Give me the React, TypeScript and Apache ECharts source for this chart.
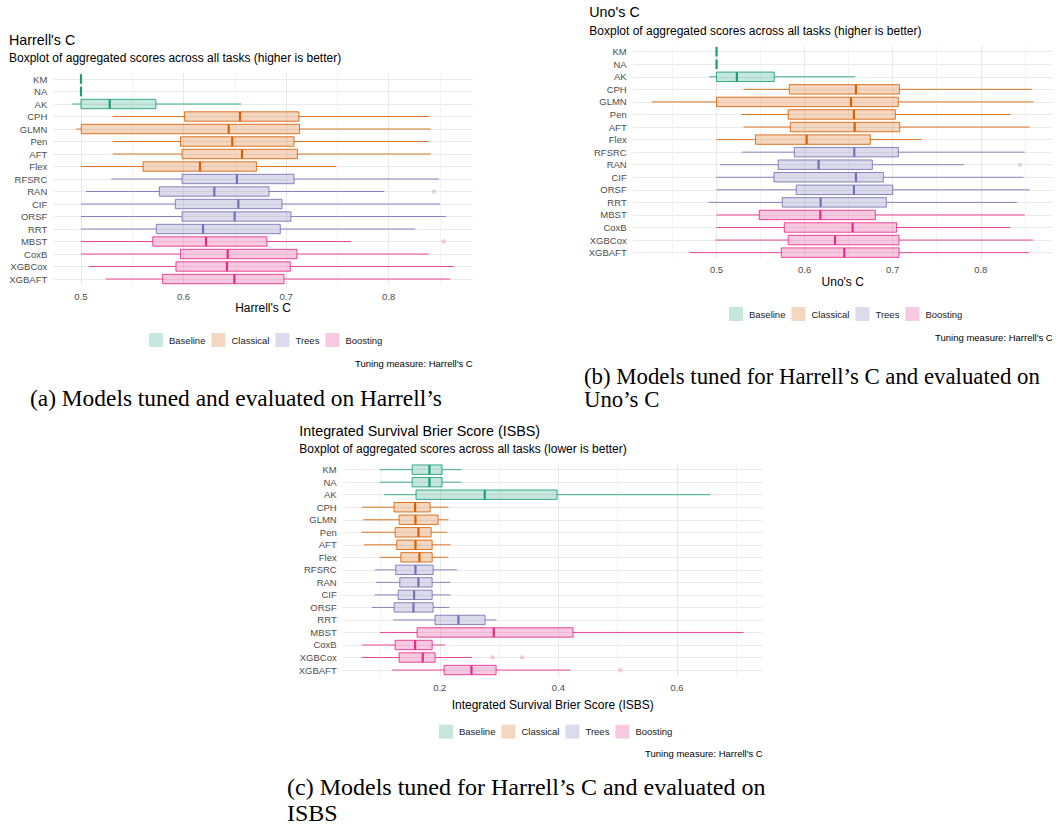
import React, { useEffect, useRef } from "react";
import * as echarts from "echarts";

// ---------- data ----------
const models = ["KM", "NA", "AK", "CPH", "GLMN", "Pen", "AFT", "Flex", "RFSRC", "RAN", "CIF", "ORSF", "RRT", "MBST", "CoxB", "XGBCox", "XGBAFT"];
const modelGroup = ["Baseline", "Baseline", "Baseline", "Classical", "Classical", "Classical", "Classical", "Classical", "Trees", "Trees", "Trees", "Trees", "Trees", "Boosting", "Boosting", "Boosting", "Boosting"];
const groups = ["Baseline", "Classical", "Trees", "Boosting"];
const groupColors = ["#1B9E77", "#D95F02", "#7570B3", "#E7298A"];

// [min, q1, median, q3, max]
const harrellStats = [
  [0.5, 0.5, 0.5, 0.5, 0.5],
  [0.5, 0.5, 0.5, 0.5, 0.5],
  [0.4916, 0.5, 0.528, 0.573, 0.656],
  [0.531, 0.601, 0.655, 0.7125, 0.839],
  [0.4955, 0.5003, 0.644, 0.713, 0.841],
  [0.531, 0.597, 0.6475, 0.7077, 0.839],
  [0.531, 0.5985, 0.657, 0.711, 0.841],
  [0.5, 0.5605, 0.616, 0.671, 0.749],
  [0.5296, 0.5985, 0.652, 0.7077, 0.849],
  [0.5049, 0.5764, 0.63, 0.6833, 0.7957],
  [0.5, 0.592, 0.6534, 0.696, 0.85],
  [0.5, 0.5985, 0.6498, 0.7047, 0.856],
  [0.5, 0.5734, 0.619, 0.6943, 0.826],
  [0.5, 0.57, 0.6219, 0.6813, 0.7636],
  [0.5, 0.597, 0.643, 0.7106, 0.839],
  [0.5075, 0.5926, 0.6423, 0.704, 0.8633],
  [0.524, 0.5796, 0.6495, 0.6979, 0.86],
];
const harrellOutliers: [string, number][] = [["RAN", 0.844], ["MBST", 0.8536]];

const unoStats = [
  [0.5, 0.5, 0.5, 0.5, 0.5],
  [0.5, 0.5, 0.5, 0.5, 0.5],
  [0.4917, 0.5, 0.5231, 0.5655, 0.6576],
  [0.5307, 0.5826, 0.6583, 0.7076, 0.858],
  [0.4265, 0.5, 0.6527, 0.7064, 0.86],
  [0.528, 0.5814, 0.656, 0.703, 0.834],
  [0.5307, 0.5837, 0.6568, 0.708, 0.8557],
  [0.5, 0.5443, 0.6023, 0.6746, 0.7326],
  [0.5288, 0.5883, 0.6564, 0.7064, 0.85],
  [0.5042, 0.57, 0.6159, 0.6769, 0.781],
  [0.5, 0.5652, 0.6583, 0.6894, 0.8485],
  [0.5, 0.5905, 0.656, 0.7, 0.8557],
  [0.4909, 0.5746, 0.6182, 0.6928, 0.841],
  [0.5, 0.5485, 0.6178, 0.6803, 0.85],
  [0.5, 0.5769, 0.6545, 0.7045, 0.8333],
  [0.4985, 0.5814, 0.6345, 0.7072, 0.8595],
  [0.469, 0.5735, 0.6451, 0.7072, 0.8545],
];
const unoOutliers: [string, number][] = [["RAN", 0.8447]];

const isbsStats = [
  [0.0989, 0.1534, 0.1826, 0.2039, 0.2365],
  [0.0989, 0.1534, 0.1826, 0.2039, 0.2365],
  [0.1062, 0.16, 0.2758, 0.3978, 0.6562],
  [0.0685, 0.123, 0.1584, 0.1837, 0.2146],
  [0.0708, 0.1315, 0.159, 0.1972, 0.2146],
  [0.0685, 0.1247, 0.164, 0.1854, 0.2124],
  [0.0719, 0.1275, 0.159, 0.1871, 0.218],
  [0.0989, 0.1343, 0.1657, 0.1871, 0.2146],
  [0.091, 0.1258, 0.159, 0.1888, 0.2287],
  [0.0921, 0.1326, 0.164, 0.1871, 0.218],
  [0.0904, 0.1298, 0.1567, 0.1871, 0.218],
  [0.0854, 0.123, 0.1556, 0.1888, 0.2163],
  [0.1213, 0.1921, 0.2315, 0.2764, 0.2955],
  [0.0989, 0.1618, 0.291, 0.4247, 0.7123],
  [0.0685, 0.1247, 0.1584, 0.1871, 0.209],
  [0.0685, 0.1315, 0.1713, 0.1921, 0.2545],
  [0.1191, 0.2073, 0.2534, 0.2949, 0.4202],
];
const isbsOutliers: [string, number][] = [["XGBCox", 0.2888], ["XGBCox", 0.3388], ["XGBAFT", 0.5045]];

// tick steps (major / minor)
const harrellTicks = [0.1, 0.05];
const unoTicks = [0.1, 0.05];
const isbsTicks = [0.2, 0.1];

// ---------- layout / text ----------
const SANS = "'Liberation Sans', Arial, Helvetica, sans-serif";
const SERIF = "'Liberation Serif', 'Times New Roman', serif";
const CAPTION_TEXT = "Tuning measure: Harrell's C";

const panels = [
  {
    stats: harrellStats, outliers: harrellOutliers, ticks: harrellTicks,
    title: "Harrell's C", subtitle: "Boxplot of aggregated scores across all tasks (higher is better)",
    axisName: "Harrell's C", nameGap: 17,
    grid: { left: 53.3, top: 72.75, width: 419.4, height: 212.5 },
    titlePos: { left: 9, top: 32.9 }, subPos: { left: 9, top: 51.7 },
    legendPos: { left: 149, top: 333 }, captionPos: { right: 585.3, top: 358.3 },
    sub: "(a) Models tuned and evaluated on Harrell’s", subcapPos: { left: 30, top: 385.8 }, subFS: 23.4, subLH: 23.4,
  },
  {
    stats: unoStats, outliers: unoOutliers, ticks: unoTicks,
    title: "Uno's C", subtitle: "Boxplot of aggregated scores across all tasks (higher is better)",
    axisName: "Uno's C", nameGap: 17.4,
    grid: { left: 632.7, top: 45.4, width: 420, height: 213.5 },
    titlePos: { left: 589.3, top: 5.4 }, subPos: { left: 589.3, top: 25 },
    legendPos: { left: 729, top: 307 }, captionPos: { right: 5.3, top: 332 },
    sub: "(b) Models tuned for Harrell’s C and evaluated on\nUno’s C", subcapPos: { left: 584, top: 364.7 }, subFS: 22.8, subLH: 23,
  },
  {
    stats: isbsStats, outliers: isbsOutliers, ticks: isbsTicks,
    title: "Integrated Survival Brier Score (ISBS)", subtitle: "Boxplot of aggregated scores across all tasks (lower is better)",
    axisName: "Integrated Survival Brier Score (ISBS)", nameGap: 22.7,
    grid: { left: 342.7, top: 463.4, width: 420, height: 212.9 },
    titlePos: { left: 299.3, top: 423.5 }, subPos: { left: 299.3, top: 443 },
    legendPos: { left: 439, top: 724.7 }, captionPos: { right: 295.3, top: 748.5 },
    sub: "(c) Models tuned for Harrell’s C and evaluated on\nISBS", subcapPos: { left: 287, top: 773.4 }, subFS: 24, subLH: 26.3,
  },
];

function rgba(hex: string, a: number) {
  const n = parseInt(hex.slice(1), 16);
  return `rgba(${(n >> 16) & 255},${(n >> 8) & 255},${n & 255},${a})`;
}

function dataRange(stats: number[][], outliers: [string, number][]) {
  let lo = Infinity, hi = -Infinity;
  stats.forEach((s) => s.forEach((v) => { lo = Math.min(lo, v); hi = Math.max(hi, v); }));
  outliers.forEach(([, v]) => { lo = Math.min(lo, v); hi = Math.max(hi, v); });
  const pad = (hi - lo) * 0.05;
  return [lo - pad, hi + pad];
}

function buildOption() {
  const grid: any[] = [];
  const xAxis: any[] = [];
  const yAxis: any[] = [];
  const series: any[] = [];
  const title: any[] = [];
  const legend: any[] = [];

  panels.forEach((p, pi) => {
    const [min, max] = dataRange(p.stats, p.outliers);
    grid.push({ ...p.grid, containLabel: false });
    // minor grid axis
    xAxis.push({
      type: "value", gridIndex: pi, position: "top", min, max,
      minInterval: p.ticks[1], maxInterval: p.ticks[1],
      axisLine: { show: false }, axisTick: { show: false }, axisLabel: { show: false },
      splitLine: { show: true, showMinLine: false, showMaxLine: false, lineStyle: { color: "#f1f1f1", width: 0.8 } },
    });
    // major axis
    xAxis.push({
      type: "value", gridIndex: pi, position: "bottom", min, max,
      minInterval: p.ticks[0], maxInterval: p.ticks[0],
      axisLine: { show: false }, axisTick: { show: false },
      axisLabel: { fontSize: 9.5, color: "#4d4d4d", margin: 6, fontFamily: SANS, showMinLabel: false, showMaxLabel: false },
      splitLine: { show: true, showMinLine: false, showMaxLine: false, lineStyle: { color: "#e9e9e9", width: 1 } },
      name: p.axisName, nameLocation: "middle", nameGap: p.nameGap,
      nameTextStyle: { fontSize: 12, color: "#000", fontFamily: SANS },
    });
    yAxis.push({
      type: "category", gridIndex: pi, data: models, inverse: true,
      axisLine: { show: false }, axisTick: { show: false },
      axisLabel: { interval: 0, fontSize: 9.5, color: "#4d4d4d", margin: 6, fontFamily: SANS },
      splitLine: { show: true, interval: 0, alignWithLabel: true, lineStyle: { color: "#ebebeb", width: 1 } },
    });

    groups.forEach((g, gi) => {
      const col = groupColors[gi];
      const fill = rgba(col, 0.25);
      const rows = models
        .map((m, i) => (modelGroup[i] === g ? [i, ...p.stats[i]] : null))
        .filter((r) => r !== null);
      series.push({
        type: "custom", name: g, xAxisIndex: pi * 2 + 1, yAxisIndex: pi,
        data: rows, encode: { x: [1, 2, 3, 4, 5], y: 0 },
        itemStyle: { color: fill }, silent: true, z: 3,
        renderItem: (params: any, api: any) => {
          const yi = api.value(0);
          const pMin = api.coord([api.value(1), yi]);
          const pQ1 = api.coord([api.value(2), yi]);
          const pMed = api.coord([api.value(3), yi]);
          const pQ3 = api.coord([api.value(4), yi]);
          const pMax = api.coord([api.value(5), yi]);
          const band = api.size([0, 1])[1];
          const h = band * 0.75;
          const cy = pMed[1];
          return {
            type: "group",
            children: [
              { type: "line", shape: { x1: pMin[0], y1: cy, x2: pQ1[0], y2: cy }, style: { stroke: rgba(col, 0.85), lineWidth: 1 } },
              { type: "line", shape: { x1: pQ3[0], y1: cy, x2: pMax[0], y2: cy }, style: { stroke: rgba(col, 0.85), lineWidth: 1 } },
              { type: "rect", shape: { x: pQ1[0], y: cy - h / 2, width: pQ3[0] - pQ1[0], height: h }, style: { fill, stroke: rgba(col, 0.85), lineWidth: 1 } },
              { type: "line", shape: { x1: pMed[0], y1: cy - h / 2, x2: pMed[0], y2: cy + h / 2 }, style: { stroke: col, lineWidth: 2.2 } },
            ],
          };
        },
      });
      const outs = p.outliers
        .filter(([m]) => modelGroup[models.indexOf(m)] === g)
        .map(([m, v]) => [v, models.indexOf(m)]);
      if (outs.length) {
        series.push({
          type: "scatter", name: g, xAxisIndex: pi * 2 + 1, yAxisIndex: pi,
          data: outs, symbol: "circle", symbolSize: 4.5, silent: true, z: 4,
          itemStyle: { color: rgba(col, 0.3) },
        });
      }
    });

    title.push({ text: p.title, ...p.titlePos, padding: 0, textStyle: { fontSize: 14.3, fontWeight: "normal", color: "#000", fontFamily: SANS } });
    title.push({ text: p.subtitle, ...p.subPos, padding: 0, textStyle: { fontSize: 12, fontWeight: "normal", color: "#000", fontFamily: SANS } });
    title.push({ text: CAPTION_TEXT, ...p.captionPos, padding: 0, textStyle: { fontSize: 9.5, fontWeight: "normal", color: "#000", fontFamily: SANS } });
    title.push({ text: p.sub, ...p.subcapPos, padding: 0, textStyle: { fontSize: p.subFS, fontWeight: "normal", color: "#000", fontFamily: SERIF, lineHeight: p.subLH } });

    legend.push({
      ...p.legendPos, orient: "horizontal", padding: 0, itemWidth: 14, itemHeight: 14, itemGap: 6,
      selectedMode: false, icon: "rect",
      textStyle: { fontSize: 9.5, color: "#1a1a1a", fontFamily: SANS, padding: [0, 0, 0, 1] },
      data: groups.map((g, gi) => ({ name: g, icon: "rect", itemStyle: { color: rgba(groupColors[gi], 0.25), borderWidth: 0, opacity: 1 } })),
    });
  });

  return {
    animation: false,
    backgroundColor: "#ffffff",
    grid, xAxis, yAxis, series, title, legend,
  };
}

export default function App() {
  const ref = useRef<HTMLDivElement>(null);
  useEffect(() => {
    if (!ref.current) return;
    const chart = echarts.init(ref.current, null, { renderer: "svg" });
    chart.setOption(buildOption() as any);
    return () => chart.dispose();
  }, []);
  return <div ref={ref} style={{ position: "absolute", left: 0, top: 0, width: 1058, height: 829, background: "#fff" }} />;
}
